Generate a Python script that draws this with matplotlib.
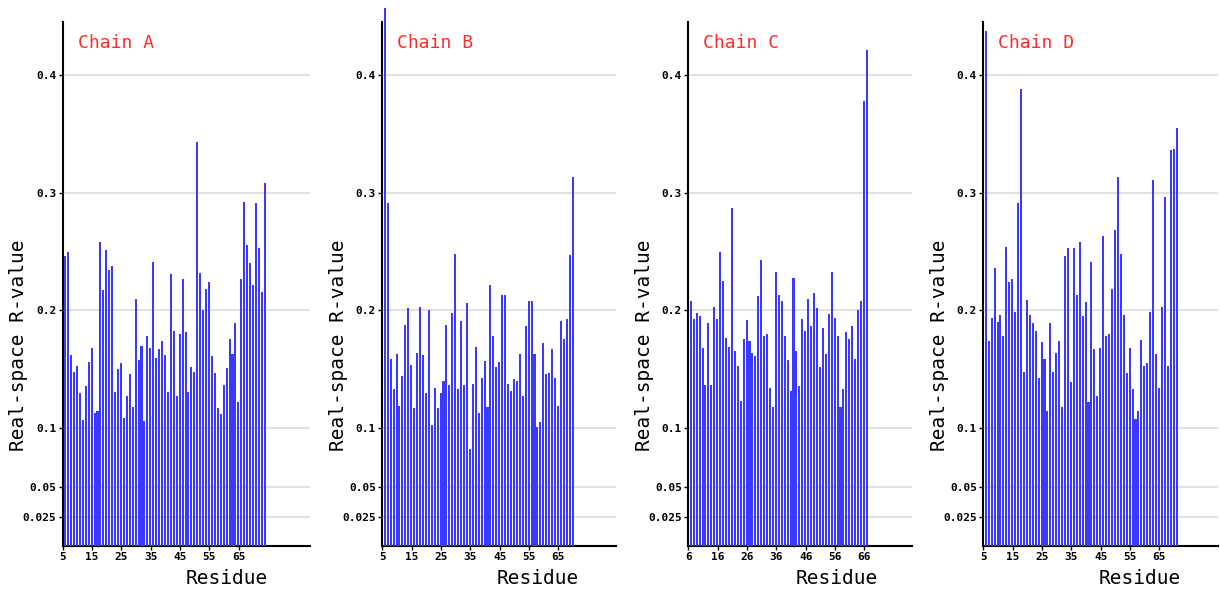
import numpy as np
import matplotlib
matplotlib.use('Agg')
import matplotlib.pyplot as plt

plt.rcParams['font.family'] = ['DejaVu Sans Mono']

# 每条链的起始残基编号和 R 值
chain_names = ['Chain A', 'Chain B', 'Chain C', 'Chain D']
first_residue = [5, 5, 6, 5]

rvalue_a = [0.246, 0.250, 0.162, 0.148, 0.153, 0.130, 0.107, 0.136, 0.156, 0.168,
            0.113, 0.115, 0.258, 0.217, 0.251, 0.234, 0.238, 0.131, 0.150, 0.155,
            0.109, 0.127, 0.146, 0.118, 0.210, 0.158, 0.170, 0.106, 0.178, 0.168,
            0.241, 0.160, 0.167, 0.174, 0.162, 0.131, 0.231, 0.183, 0.127, 0.180,
            0.227, 0.182, 0.131, 0.152, 0.148, 0.343, 0.232, 0.200, 0.218, 0.224,
            0.161, 0.147, 0.117, 0.112, 0.137, 0.151, 0.176, 0.163, 0.189, 0.122,
            0.227, 0.292, 0.256, 0.240, 0.222, 0.291, 0.253, 0.216, 0.308]
rvalue_b = [0.457, 0.291, 0.159, 0.133, 0.163, 0.119, 0.144, 0.188, 0.202, 0.154,
            0.117, 0.164, 0.203, 0.162, 0.130, 0.200, 0.103, 0.134, 0.117, 0.130,
            0.140, 0.188, 0.137, 0.198, 0.248, 0.133, 0.191, 0.137, 0.206, 0.082,
            0.138, 0.169, 0.113, 0.143, 0.157, 0.118, 0.222, 0.178, 0.152, 0.156,
            0.213, 0.213, 0.138, 0.132, 0.142, 0.140, 0.163, 0.127, 0.187, 0.208,
            0.208, 0.163, 0.101, 0.105, 0.172, 0.146, 0.147, 0.167, 0.143, 0.119,
            0.191, 0.176, 0.193, 0.247, 0.313]
rvalue_c = [0.208, 0.193, 0.198, 0.195, 0.168, 0.137, 0.189, 0.137, 0.203, 0.193,
            0.250, 0.225, 0.177, 0.169, 0.287, 0.166, 0.153, 0.123, 0.176, 0.192,
            0.174, 0.164, 0.161, 0.212, 0.243, 0.178, 0.180, 0.134, 0.118, 0.233,
            0.213, 0.208, 0.178, 0.158, 0.132, 0.228, 0.166, 0.136, 0.193, 0.183,
            0.210, 0.187, 0.215, 0.202, 0.152, 0.185, 0.163, 0.197, 0.233, 0.194,
            0.178, 0.118, 0.133, 0.182, 0.176, 0.187, 0.159, 0.200, 0.208, 0.378,
            0.421]
rvalue_d = [0.437, 0.174, 0.194, 0.236, 0.190, 0.196, 0.178, 0.254, 0.224, 0.227,
            0.199, 0.291, 0.388, 0.148, 0.209, 0.196, 0.189, 0.183, 0.143, 0.173,
            0.159, 0.115, 0.189, 0.148, 0.164, 0.174, 0.118, 0.246, 0.253, 0.139,
            0.253, 0.213, 0.258, 0.195, 0.207, 0.122, 0.241, 0.167, 0.127, 0.168,
            0.263, 0.178, 0.180, 0.218, 0.268, 0.313, 0.248, 0.196, 0.147, 0.168,
            0.133, 0.108, 0.115, 0.175, 0.153, 0.155, 0.199, 0.311, 0.163, 0.134,
            0.203, 0.296, 0.153, 0.336, 0.337, 0.355]
all_values = [rvalue_a, rvalue_b, rvalue_c, rvalue_d]

ytick_vals = [0.025, 0.05, 0.1, 0.2, 0.3, 0.4]
ytick_text = ['0.025', '0.05', '0.1', '0.2', '0.3', '0.4']

# 像素布局 (图宽1220, 高589)
W, H = 1220, 589
panel_left = [62.7, 382.3, 688.3, 983.3]
panel_right = [310, 615.7, 911.7, 1218]
px_per_res = 2.935
bottom_px, top_px = 546, 22

fig = plt.figure(figsize=(W / 100, H / 100), dpi=100)

for i in range(4):
    vals = all_values[i]
    start = first_residue[i]
    left, right = panel_left[i], panel_right[i]
    ax = fig.add_axes([left / W, (H - bottom_px) / H, (right - left) / W, (bottom_px - top_px) / H])
    res = np.arange(start, start + len(vals))
    ax.bar(res + 0.85, vals, width=0.7, color='#3a3aff', linewidth=0, clip_on=False, zorder=3)

    ax.set_xlim(start, start + (right - left) / px_per_res)
    ax.set_ylim(0, 0.445)
    ax.set_xticks(np.arange(start, start + 61, 10))
    ax.set_yticks(ytick_vals)
    ax.set_yticklabels(ytick_text)
    ax.tick_params(axis='both', labelsize=8, length=3, width=1, pad=1.5)
    for lab in ax.get_xticklabels() + ax.get_yticklabels():
        lab.set_fontweight('bold')
    ax.grid(axis='y', color='#dcdcdc', linewidth=1.2, zorder=0)
    ax.set_axisbelow(True)
    for s in ['top', 'right']:
        ax.spines[s].set_visible(False)
    ax.spines['left'].set_linewidth(1.5)
    ax.spines['bottom'].set_linewidth(1.5)

    ax.text(15 / (right - left), 1 - 21 / (bottom_px - top_px), chain_names[i],
            transform=ax.transAxes, color='#ff2a2a', fontsize=13, va='center', ha='left')

    fig.text((left + 0.665 * (right - left)) / W, (H - 578) / H, 'Residue',
             fontsize=14, ha='center', va='center')
    fig.text((left - 44) / W, (H - 345) / H, 'Real-space R-value',
             fontsize=14, ha='center', va='center', rotation=90)

fig.savefig('out.png', dpi=100)
